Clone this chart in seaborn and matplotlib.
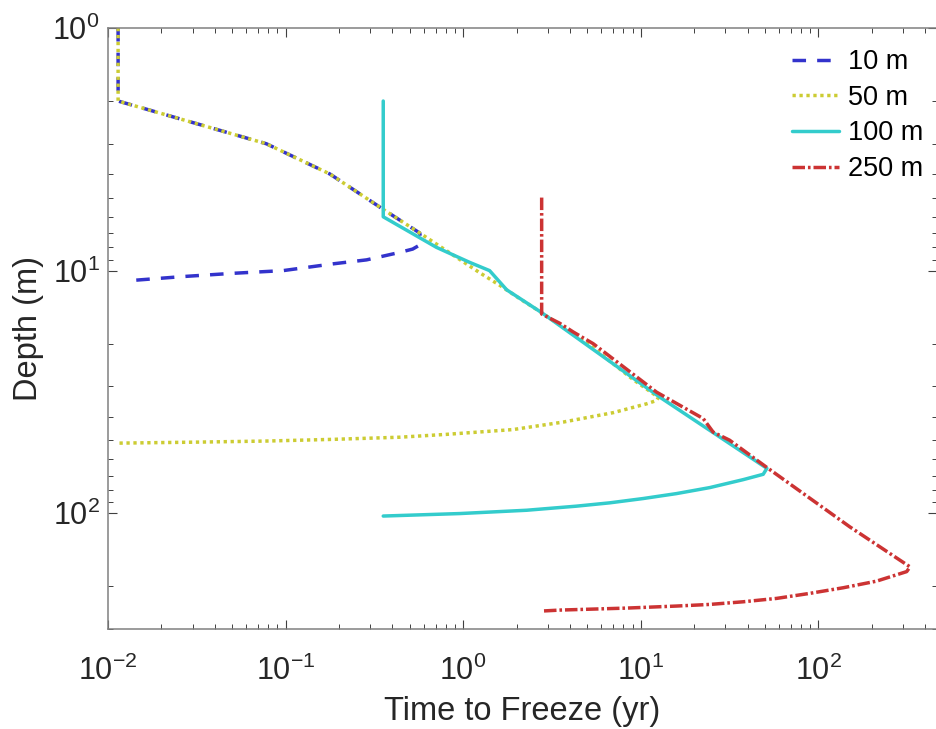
import matplotlib
matplotlib.use("Agg")
import matplotlib.pyplot as plt
import seaborn as sns
from matplotlib.ticker import LogLocator, LogFormatterSciNotation, NullFormatter

# ---------------- data ----------------
labels = ["10 m", "50 m", "100 m", "250 m"]
colors = ["#3333CC", "#CCCC33", "#33CCCC", "#CC3333"]

time_10 = [0.0114, 0.0114, 0.078, 0.178, 0.356, 0.57, 0.578, 0.56, 0.52, 0.44,
           0.286, 0.1845, 0.0968, 0.0504, 0.0264, 0.0132]
depth_10 = [1.0, 2.0, 3.0, 4.0, 5.6, 7.0, 7.5, 7.9, 8.15, 8.41,
            9.03, 9.38, 10.0, 10.26, 10.58, 11.0]

time_50 = [0.0114, 0.0114, 0.078, 0.178, 0.356, 0.57, 0.805, 1.24, 1.61, 2.1,
           2.77, 5.4, 9.0, 12.6, 12.3, 10.8, 7.0, 3.66, 1.91, 0.806, 0.44,
           0.185, 0.078, 0.033, 0.0116]
depth_50 = [1.0, 2.0, 3.0, 4.0, 5.6, 7.0, 8.27, 10.2, 11.5, 13.1,
            14.9, 20.8, 28.0, 33.3, 34.3, 35.4, 38.5, 42.1, 45.2, 47.3, 48.6,
            49.6, 50.4, 50.9, 51.4]

time_100 = [0.355, 0.355, 0.708, 1.09, 1.41, 1.76, 2.77, 12.8, 51.4, 49.0,
            37.8, 24.5, 15.9, 10.3, 6.7, 4.35, 2.28, 0.958, 0.355]
depth_100 = [2.0, 6.0, 8.02, 9.25, 10.0, 12.0, 14.9, 33.2, 65.3, 69.1,
             72.7, 78.4, 83.0, 87.0, 90.6, 93.5, 97.2, 100.3, 102.7]

time_250 = [2.77, 2.77, 3.51, 4.17, 5.4, 8.4, 12.3, 22.5, 25.6, 31.7, 51.0,
            150.7, 329.0, 315.0, 213.0, 138.4, 89.8, 58.3, 37.8, 24.5, 15.9,
            8.33, 3.51, 2.77]
depth_250 = [5.0, 15.1, 16.5, 17.9, 20.0, 25.6, 31.7, 40.7, 46.3, 50.0, 64.5,
             113.8, 166.4, 174.0, 190.5, 202.8, 213.9, 224.4, 231.7, 237.6, 241.3,
             246.0, 250.7, 253.0]

x_label = "Time to Freeze (yr)"
y_label = "Depth (m)"

# ---------------- style ----------------
sns.set_theme(style="ticks")
plt.rcParams["font.family"] = ["Liberation Sans", "DejaVu Sans"]
plt.rcParams["axes.unicode_minus"] = False

W, H = 936, 729
fig = plt.figure(figsize=(W / 100, H / 100), dpi=100)
L, R, T, B = 108, 937, 28, 629
ax = fig.add_axes([L / W, 1 - B / H, (R - L) / W, (B - T) / H])

series = [(time_10, depth_10), (time_50, depth_50),
          (time_100, depth_100), (time_250, depth_250)]
lw = 2.5
dash_styles = [(3.9, 3.2), (0.95, 1.05), None, (3.6, 0.85, 0.75, 0.85)]

for (t, d), lab, col, ds in zip(series, labels, colors, dash_styles):
    sns.lineplot(x=t, y=d, sort=False, estimator=None, color=col,
                 linewidth=lw, label=lab, ax=ax, legend=False)
    line = ax.lines[-1]
    line.set_solid_joinstyle("round")
    if ds is not None:
        line.set_dashes(ds)
        line.set_dash_capstyle("butt")

ax.set_xscale("log")
ax.set_yscale("log")
ax.set_xlim(0.01, 10 ** ((R - L) / 177.55 - 2))
ax.set_ylim(300, 1)

ax.xaxis.set_major_locator(LogLocator(base=10, numticks=10))
ax.xaxis.set_minor_locator(LogLocator(base=10, subs=range(2, 10), numticks=20))
ax.yaxis.set_major_locator(LogLocator(base=10, numticks=10))
ax.yaxis.set_minor_locator(LogLocator(base=10, subs=range(2, 10), numticks=20))
ax.xaxis.set_major_formatter(LogFormatterSciNotation())
ax.yaxis.set_major_formatter(LogFormatterSciNotation())
ax.xaxis.set_minor_formatter(NullFormatter())
ax.yaxis.set_minor_formatter(NullFormatter())

for sp in ax.spines.values():
    sp.set_color("#808080")
    sp.set_linewidth(1.1)
    sp.set_visible(True)

ax.tick_params(which="both", direction="in", top=True, right=True,
               color="#404040", labelcolor="#262626", labelsize=22)
ax.tick_params(which="major", length=6.5, width=0.8)
ax.tick_params(which="minor", length=3.3, width=0.7)
ax.tick_params(axis="x", which="major", pad=19)
ax.tick_params(axis="y", which="major", pad=6)

ax.set_xlabel(x_label, fontsize=23.5, color="#262626")
ax.set_ylabel(y_label, fontsize=23.5, color="#262626")
ax.xaxis.set_label_coords(0.5, -(696 - B) / (B - T))
ax.yaxis.set_label_coords(-(108 - 44) / (R - L), 0.5)

leg = ax.legend(handles=ax.lines[:4], labels=labels, frameon=False,
                loc="upper left", bbox_to_anchor=(792 / W, 1 - 49 / H),
                bbox_transform=fig.transFigure, borderpad=0, borderaxespad=0,
                fontsize=19.5, handlelength=1.75, handletextpad=0.3,
                labelspacing=0.36)
for txt in leg.get_texts():
    txt.set_color("#000000")

fig.savefig("out.png", dpi=100)
